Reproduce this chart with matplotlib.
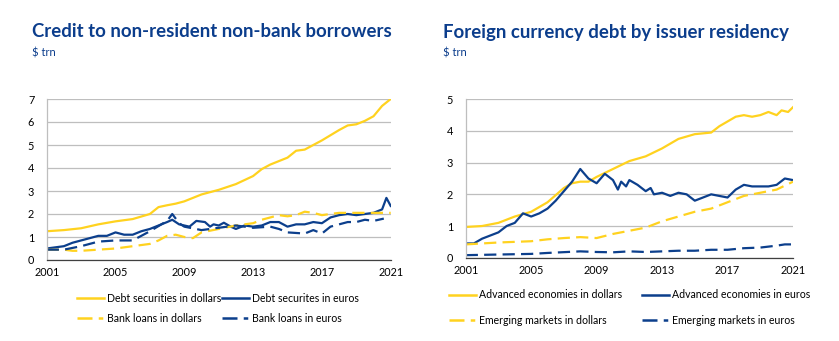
import matplotlib
matplotlib.use("Agg")
import matplotlib.pyplot as plt
from matplotlib.lines import Line2D

# ---------------- Data: left chart ----------------
ds_usd_x = [2001, 2002, 2003, 2004, 2005, 2006, 2007, 2007.5, 2008, 2008.5, 2009, 2010, 2011, 2012,
            2013, 2013.5, 2014, 2015, 2015.5, 2016, 2017, 2018, 2018.5, 2019, 2019.5, 2020, 2020.5, 2021]
ds_usd_y = [1.25, 1.3, 1.38, 1.55, 1.68, 1.78, 2.0, 2.3, 2.38, 2.45, 2.55, 2.85, 3.05, 3.3,
            3.65, 3.95, 4.15, 4.45, 4.75, 4.8, 5.2, 5.65, 5.85, 5.9, 6.05, 6.25, 6.7, 7.0]

ds_eur_x = [2001, 2002, 2002.5, 2003, 2004, 2004.5, 2005, 2005.5, 2006, 2006.5, 2007, 2007.5, 2008,
            2008.3, 2008.7, 2009, 2009.3, 2009.7, 2010.2, 2010.5, 2010.7, 2011, 2011.3, 2011.7, 2012,
            2012.5, 2013, 2013.5, 2014, 2014.5, 2015, 2015.5, 2016, 2016.5, 2017, 2017.5, 2018, 2018.5,
            2019, 2019.5, 2020, 2020.5, 2020.75, 2021]
ds_eur_y = [0.5, 0.6, 0.75, 0.85, 1.05, 1.05, 1.2, 1.1, 1.1, 1.25, 1.35, 1.5, 1.65,
            1.75, 1.55, 1.5, 1.45, 1.7, 1.65, 1.45, 1.55, 1.5, 1.62, 1.45, 1.35,
            1.5, 1.45, 1.5, 1.65, 1.65, 1.45, 1.55, 1.55, 1.65, 1.6, 1.85, 1.95, 2.0,
            1.95, 2.0, 2.05, 2.2, 2.7, 2.35]

bl_usd_x = [2001, 2002, 2002.5, 2003, 2004, 2005, 2006, 2007, 2007.5, 2008, 2008.5, 2009, 2009.5,
            2010, 2011, 2012, 2013, 2013.5, 2014, 2014.5, 2015, 2015.5, 2016, 2016.5, 2017, 2018,
            2019, 2020, 2021]
bl_usd_y = [0.45, 0.45, 0.4, 0.4, 0.45, 0.5, 0.6, 0.7, 0.85, 1.05, 1.1, 1.0, 0.95,
            1.2, 1.35, 1.5, 1.6, 1.75, 1.85, 1.95, 1.9, 1.95, 2.1, 2.05, 1.95, 2.05,
            2.05, 2.05, 2.05]

bl_eur_x = [2001, 2002, 2003, 2004, 2005, 2006, 2006.5, 2007, 2008, 2008.3, 2008.7, 2009, 2010,
            2011, 2012, 2013, 2014, 2014.5, 2015, 2016, 2016.5, 2017, 2017.5, 2018, 2018.5, 2019,
            2019.5, 2020, 2020.6]
bl_eur_y = [0.45, 0.45, 0.6, 0.8, 0.85, 0.85, 1.05, 1.25, 1.7, 2.0, 1.6, 1.45, 1.3,
            1.4, 1.5, 1.4, 1.45, 1.35, 1.2, 1.15, 1.3, 1.15, 1.45, 1.55, 1.65, 1.65,
            1.75, 1.7, 1.8]

# ---------------- Data: right chart ----------------
ae_usd_x = [2001, 2002, 2003, 2004, 2005, 2006, 2007, 2007.5, 2008, 2008.5, 2009, 2010, 2011, 2012,
            2013, 2014, 2015, 2016, 2016.5, 2017, 2017.5, 2018, 2018.5, 2019, 2019.5, 2020, 2020.3,
            2020.7, 2021]
ae_usd_y = [0.97, 1.0, 1.1, 1.3, 1.45, 1.75, 2.2, 2.35, 2.4, 2.4, 2.55, 2.8, 3.05, 3.2,
            3.45, 3.75, 3.9, 3.95, 4.15, 4.3, 4.45, 4.5, 4.45, 4.5, 4.6, 4.5, 4.65,
            4.6, 4.75]

ae_eur_x = [2001, 2001.5, 2002, 2003, 2003.5, 2004, 2004.5, 2005, 2005.5, 2006, 2006.5, 2007, 2007.5,
            2008, 2008.5, 2009, 2009.5, 2010, 2010.3, 2010.5, 2010.8, 2011, 2011.5, 2012, 2012.3,
            2012.5, 2013, 2013.5, 2014, 2014.5, 2015, 2015.5, 2016, 2016.5, 2017, 2017.5, 2018,
            2018.5, 2019, 2019.5, 2020, 2020.5, 2021]
ae_eur_y = [0.45, 0.45, 0.6, 0.8, 1.0, 1.1, 1.4, 1.3, 1.4, 1.55, 1.8, 2.1, 2.4,
            2.8, 2.5, 2.35, 2.65, 2.45, 2.15, 2.4, 2.25, 2.45, 2.3, 2.1, 2.2,
            2.0, 2.05, 1.95, 2.05, 2.0, 1.8, 1.9, 2.0, 1.95, 1.9, 2.15, 2.3,
            2.25, 2.25, 2.25, 2.3, 2.5, 2.45]

em_usd_x = [2001, 2002, 2003, 2004, 2005, 2006, 2007, 2008, 2009, 2010, 2011, 2012, 2013, 2014,
            2015, 2016, 2017, 2018, 2019, 2020, 2021]
em_usd_y = [0.42, 0.45, 0.48, 0.5, 0.52, 0.58, 0.62, 0.65, 0.62, 0.75, 0.85, 0.95, 1.15, 1.3,
            1.45, 1.55, 1.75, 1.95, 2.05, 2.15, 2.4]

em_eur_x = [2001, 2003, 2005, 2006, 2008, 2009, 2010, 2011, 2012, 2013, 2014, 2015, 2016, 2017,
            2018, 2019, 2020, 2020.5, 2021]
em_eur_y = [0.08, 0.1, 0.12, 0.15, 0.2, 0.18, 0.17, 0.2, 0.18, 0.2, 0.22, 0.22, 0.25, 0.25,
            0.3, 0.32, 0.38, 0.42, 0.42]

year_ticks = [2001, 2005, 2009, 2013, 2017, 2021]

left_labels = ["Debt securities in dollars", "Debt securites in euros",
               "Bank loans in dollars", "Bank loans in euros"]
right_labels = ["Advanced economies in dollars", "Advanced economies in euros",
                "Emerging markets in dollars", "Emerging markets in euros"]

# ---------------- Style ----------------
YEL = "#FFD21F"
BLU = "#0C3F8C"
TITLE = "#0B3D8C"
plt.rcParams["font.family"] = ["Lato", "DejaVu Sans"]

W, H = 839, 341
fig = plt.figure(figsize=(W / 100, H / 100), dpi=100)


def fx(px):
    return px / W


def fy(py):
    return 1 - py / H


def make_axes(x0, x1, ytop, ybot):
    return fig.add_axes([fx(x0), fy(ybot), fx(x1) - fx(x0), fy(ytop) - fy(ybot)])


axL = make_axes(46.7, 390.7, 99, 260)
axR = make_axes(465.7, 793, 99.3, 257.7)

dash = (0, (5.5, 2.8))
lw = 1.6


def style(ax, ymax):
    ax.set_xlim(2001, 2021)
    ax.set_ylim(0, ymax)
    ax.set_xticks(year_ticks)
    ax.set_xticklabels([str(y) for y in year_ticks])
    ax.set_yticks(range(0, ymax + 1))
    ax.grid(axis="y", color="#BEBEBE", linewidth=0.9)
    ax.set_axisbelow(True)
    for s in ["top", "right"]:
        ax.spines[s].set_visible(False)
    ax.spines["left"].set_color("#BEBEBE")
    ax.spines["left"].set_linewidth(0.9)
    ax.spines["bottom"].set_color("#404040")
    ax.spines["bottom"].set_linewidth(0.9)
    ax.tick_params(axis="both", length=0, labelsize=7.8, colors="#000000")
    ax.tick_params(axis="y", pad=9)
    ax.tick_params(axis="x", pad=5)


style(axL, 7)
style(axR, 5)

hL = []
hL.append(axL.plot(ds_usd_x, ds_usd_y, color=YEL, lw=lw, label=left_labels[0])[0])
hL.append(axL.plot(ds_eur_x, ds_eur_y, color=BLU, lw=lw, label=left_labels[1])[0])
hL.append(axL.plot(bl_usd_x, bl_usd_y, color=YEL, lw=lw, ls=dash, label=left_labels[2])[0])
hL.append(axL.plot(bl_eur_x, bl_eur_y, color=BLU, lw=lw, ls=dash, label=left_labels[3])[0])

hR = []
hR.append(axR.plot(ae_usd_x, ae_usd_y, color=YEL, lw=lw, label=right_labels[0])[0])
hR.append(axR.plot(ae_eur_x, ae_eur_y, color=BLU, lw=lw, label=right_labels[1])[0])
hR.append(axR.plot(em_usd_x, em_usd_y, color=YEL, lw=lw, ls=dash, label=right_labels[2])[0])
hR.append(axR.plot(em_eur_x, em_eur_y, color=BLU, lw=lw, ls=dash, label=right_labels[3])[0])


def leg_handles(handles):
    out = []
    for h in handles:
        if h.get_linestyle() == "-":
            out.append(Line2D([], [], color=h.get_color(), lw=1.8))
        else:
            out.append(Line2D([], [], color=h.get_color(), lw=1.8, ls=(0, (6, 2.5, 1.8, 2.5))))
    return out


for i, (h, lab) in enumerate(zip(leg_handles(hL), left_labels)):
    col, row = i % 2, i // 2
    x0 = [77, 222][col]
    y0 = [298, 318][row]
    fig.legend([h], [lab], loc="center left", bbox_to_anchor=(fx(x0), fy(y0)),
               frameon=False, fontsize=7.6, handlelength=2.6, handletextpad=0.25,
               borderpad=0, borderaxespad=0)

for i, (h, lab) in enumerate(zip(leg_handles(hR), right_labels)):
    col, row = i % 2, i // 2
    x0 = [449, 642][col]
    y0 = [295, 320][row]
    fig.legend([h], [lab], loc="center left", bbox_to_anchor=(fx(x0), fy(y0)),
               frameon=False, fontsize=7.6, handlelength=2.6, handletextpad=0.25,
               borderpad=0, borderaxespad=0)

# Titles
fig.text(fx(32), fy(37), "Credit to non-resident non-bank borrowers", color=TITLE,
         fontsize=13.4, fontweight="bold", ha="left", va="baseline")
fig.text(fx(32), fy(56), "$ trn", color=TITLE, fontsize=8, ha="left", va="baseline")
fig.text(fx(443), fy(38), "Foreign currency debt by issuer residency", color=TITLE,
         fontsize=13.4, fontweight="bold", ha="left", va="baseline")
fig.text(fx(443), fy(57), "$ trn", color=TITLE, fontsize=8, ha="left", va="baseline")

fig.savefig("out.png", dpi=100)
